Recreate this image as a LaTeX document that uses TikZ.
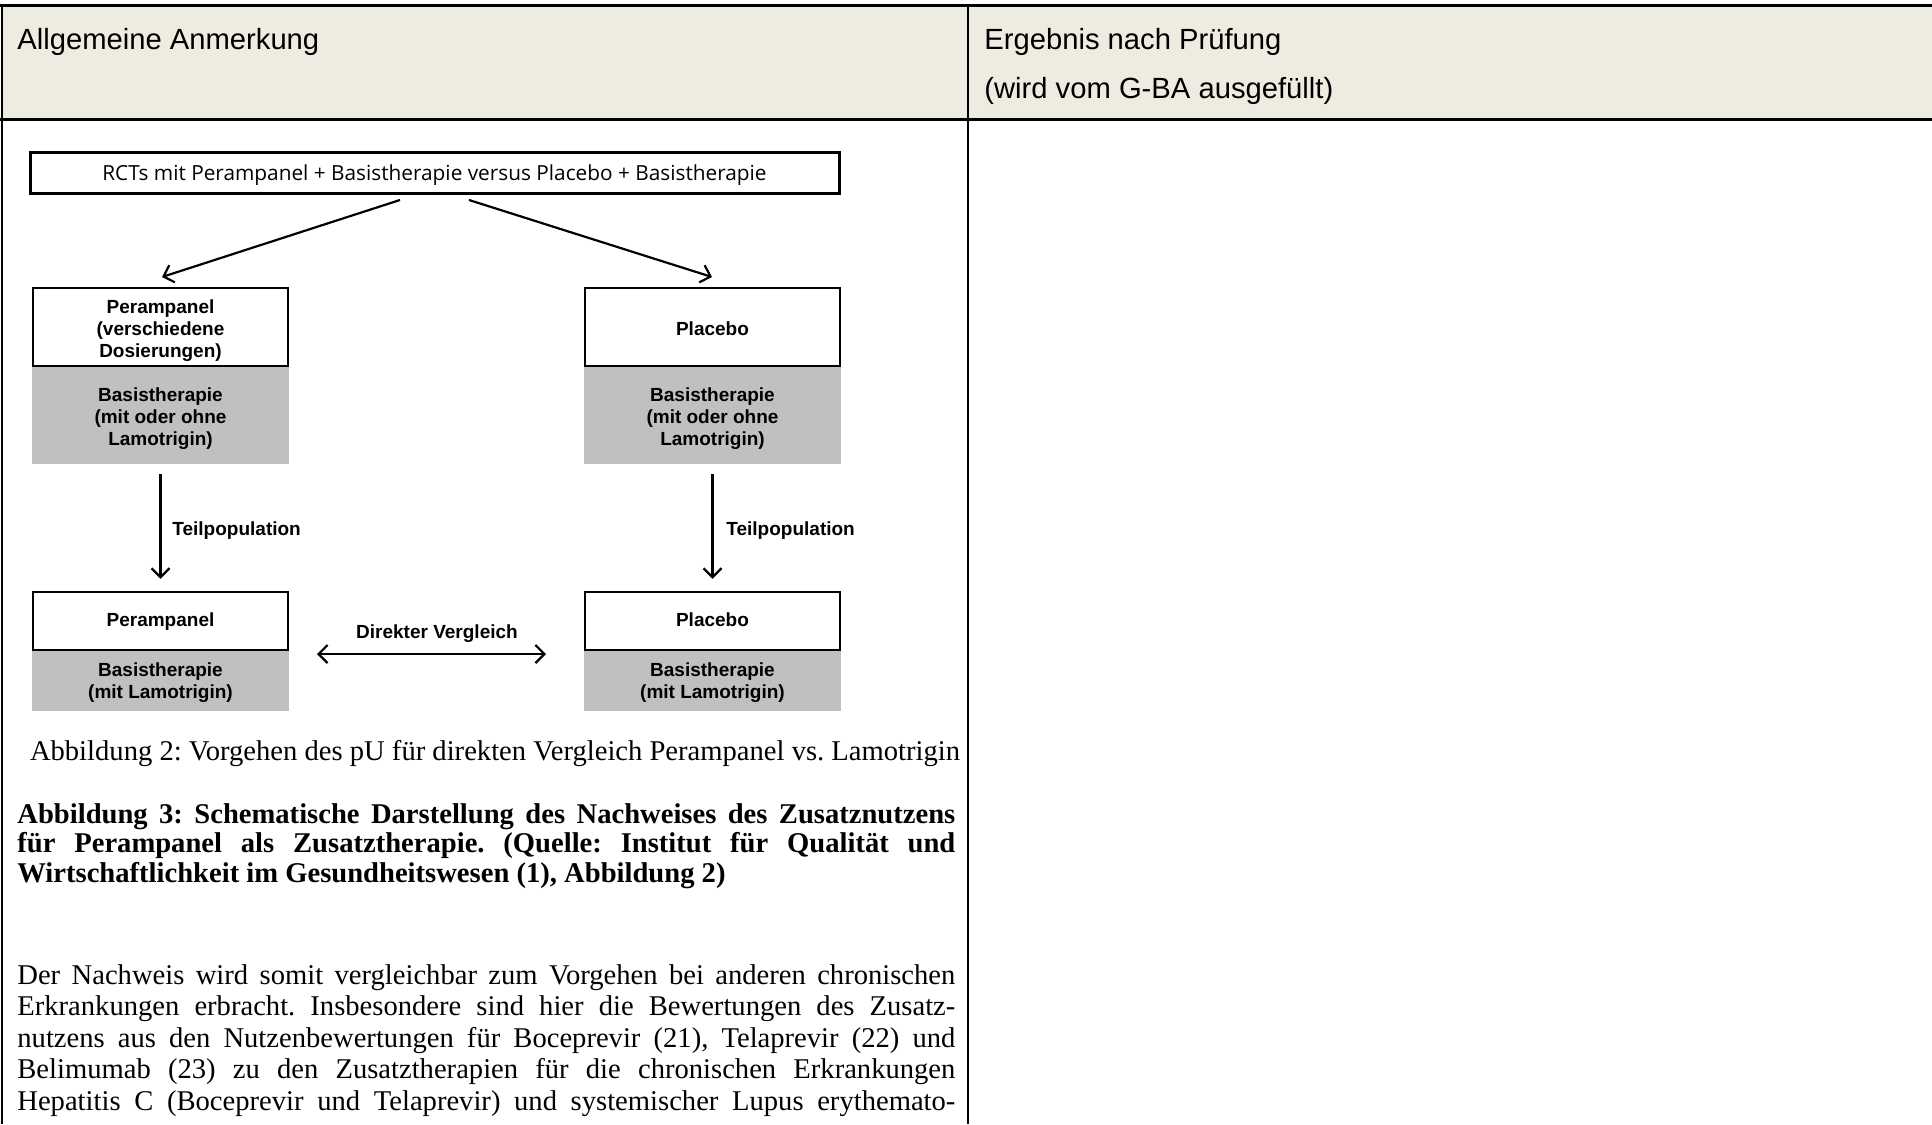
\documentclass[tikz,border=0pt]{standalone}
\usepackage{fontspec}
\setmainfont{Liberation Serif}
\newfontfamily\arialfont{Liberation Sans}
\newfontfamily\opensansfont{Open Sans}
\usetikzlibrary{arrows.meta,calc}
\definecolor{hdrfill}{RGB}{238,235,224}
\definecolor{boxgray}{RGB}{192,192,192}
\newcommand\boxtxt[2][-1.85pt]{\raisebox{#1}[\height][\depth]{\begin{tabular}{@{}c@{}}#2\end{tabular}}}
\begin{document}
\frenchspacing
\begin{tikzpicture}[x=0.5pt,y=-0.5pt,
  hdrtext/.style={anchor=mid west,inner sep=0pt,font=\arialfont\fontsize{14.6pt}{17pt}\selectfont},
  bodyline/.style={anchor=mid west,inner sep=0pt,font=\fontsize{14.3pt}{17pt}\selectfont},
  boldline/.style={anchor=mid west,inner sep=0pt,font=\bfseries\fontsize{14.3pt}{17pt}\selectfont},
  lbl/.style={inner sep=0pt,font=\arialfont\bfseries\fontsize{9.5pt}{11pt}\selectfont},
  topbox/.style={draw=black,line width=1.5pt,fill=white,minimum width=404.5pt,minimum height=20.5pt,inner sep=0pt,
    font=\opensansfont\fontsize{10.4pt}{12pt}\selectfont},
  whitebox/.style={lbl,draw=black,line width=1.2pt,fill=white,minimum width=127.5pt},
  graybox/.style={lbl,fill=boxgray,minimum width=128.6pt},
  arr/.style={line width=1.1pt,-{Straight Barb[length=4.5pt,width=9pt]}},
  darr/.style={line width=1.1pt,{Straight Barb[length=4.5pt,width=9pt]}-{Straight Barb[length=4.5pt,width=9pt]}},
  rule/.style={line width=1.5pt},
  vrule/.style={line width=1.2pt}
]
\useasboundingbox (0,0) rectangle (1932,1124);
% table
\fill[hdrfill] (2,5) rectangle (1932,119);
\draw[rule] (0,5) -- (1932,5);
\draw[rule] (0,119) -- (1932,119);
\draw[vrule] (2,4) -- (2,1124);
\draw[vrule] (968,4) -- (968,1124);
\node[hdrtext] (h1) at (17,45) {Allgemeine Anmerkung};
\node[hdrtext] (h2) at (984,45) {Ergebnis nach Prüfung};
\node[hdrtext] (h3) at (984,94) {(wird vom G-BA ausgefüllt)};

% diagram
\node[topbox] (top) at (434.5,172.5) {\raisebox{-1.2pt}[\height][\depth]{RCTs mit Perampanel + Basistherapie versus Placebo + Basistherapie}};

\node[graybox,minimum height=49pt] (lg1) at (160.5,415) {\boxtxt{Basistherapie\\(mit oder ohne\\Lamotrigin)}};
\node[whitebox,minimum height=39pt] (lw1) at (160.5,327) {\boxtxt{Perampanel\\(verschiedene\\Dosierungen)}};
\node[graybox,minimum height=49pt] (rg1) at (712.5,415) {\boxtxt{Basistherapie\\(mit oder ohne\\Lamotrigin)}};
\node[whitebox,minimum height=39pt] (rw1) at (712.5,327) {\boxtxt{Placebo}};

\node[graybox,minimum height=30.5pt] (lg2) at (160.5,680.5) {\boxtxt[-1.2pt]{Basistherapie\\(mit Lamotrigin)}};
\node[whitebox,minimum height=29pt] (lw2) at (160.5,621) {\boxtxt[-0.6pt]{Perampanel}};
\node[graybox,minimum height=30.5pt] (rg2) at (712.5,680.5) {\boxtxt[-1.2pt]{Basistherapie\\(mit Lamotrigin)}};
\node[whitebox,minimum height=29pt] (rw2) at (712.5,621) {\boxtxt[-0.6pt]{Placebo}};

\coordinate (ls) at (400,200);
\coordinate (le) at (162,277);
\coordinate (rs) at (469,200);
\coordinate (re) at (712,277);
\draw[arr] (ls) -- (le);
\draw[arr] (rs) -- (re);

\draw[arr] ($(lg1.south)+(0,10)$) -- ($(lw2.north)+(0,-12)$);
\draw[arr] ($(rg1.south)+(0,10)$) -- ($(rw2.north)+(0,-12)$);
\node[lbl,anchor=west] (tp1) at (172,530.5) {Teilpopulation};
\node[lbl,anchor=west] (tp2) at (726,530.5) {Teilpopulation};

\coordinate (dl) at (317,654);
\coordinate (dr) at (546,654);
\draw[darr] (dl) -- (dr);
\node[lbl] (dv) at (437,633.5) {Direkter Vergleich};

% captions and text
\node[bodyline] (cap2) at (29.6,756) {Abbildung 2: Vorgehen des pU für direkten Vergleich Perampanel vs. Lamotrigin};

\node[boldline] (b1) at (17,818.5) {\makebox[469pt][s]{Abbildung 3: Schematische Darstellung des Nachweises des Zusatznutzens}};
\node[boldline] (b2) at (17,848) {\makebox[469pt][s]{für Perampanel als Zusatztherapie. (Quelle: Institut für Qualität und}};
\node[boldline] (b3) at (17,877.5) {Wirtschaftlichkeit im Gesundheitswesen (1), Abbildung 2)};

\node[bodyline] (t1) at (17,979.5) {\makebox[469pt][s]{Der Nachweis wird somit vergleichbar zum Vorgehen bei anderen chronischen}};
\node[bodyline] (t2) at (17,1011) {\makebox[469pt][s]{Erkrankungen erbracht. Insbesondere sind hier die Bewertungen des Zusatz-}};
\node[bodyline] (t3) at (17,1042.5) {\makebox[469pt][s]{nutzens aus den Nutzenbewertungen für Boceprevir (21), Telaprevir (22) und}};
\node[bodyline] (t4) at (17,1074) {\makebox[469pt][s]{Belimumab (23) zu den Zusatztherapien für die chronischen Erkrankungen}};
\node[bodyline] (t5) at (17,1105.5) {\makebox[469pt][s]{Hepatitis C (Boceprevir und Telaprevir) und systemischer Lupus erythemato-}};
\end{tikzpicture}
\end{document}
